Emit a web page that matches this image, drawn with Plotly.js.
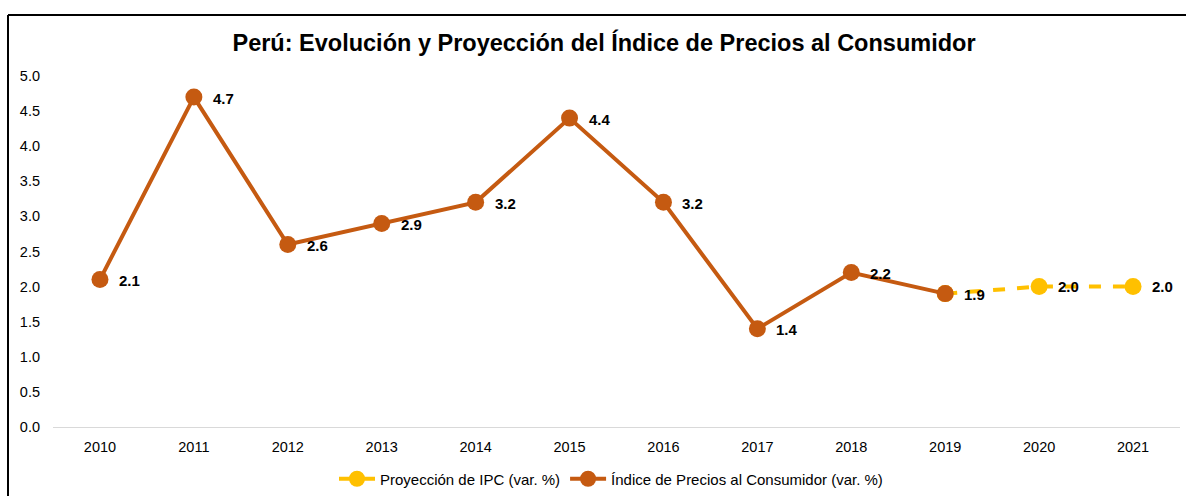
<!DOCTYPE html>
<html><head><meta charset="utf-8">
<script src="https://cdn.plot.ly/plotly-3.0.1.min.js"></script>
<style>html,body{margin:0;padding:0;background:#fff}#chart{width:1186px;height:496px}</style>
</head><body><div id="chart"></div>
<script>
const years = ['2010','2011','2012','2013','2014','2015','2016','2017','2018','2019','2020','2021'];
const ipcYears = ['2010','2011','2012','2013','2014','2015','2016','2017','2018','2019'];
const ipcValues = [2.1, 4.7, 2.6, 2.9, 3.2, 4.4, 3.2, 1.4, 2.2, 1.9];
const projYears = ['2019','2020','2021'];
const projValues = [1.9, 2.0, 2.0];
const projLabelYears = ['2020','2021'];
const projLabelValues = [2.0, 2.0];

const W = 1186, H = 496, ml = 53, mr = 6, mt = 76, mb = 69;
const pw = W - ml - mr, ph = H - mt - mb;
const px = x => (x - ml) / pw;
const py = y => (H - mb - y) / ph;

const orange = '#C55A11', yellow = '#FFC000';
const font = 'Liberation Sans, Arial, sans-serif';

const traces = [
  {x: projYears, y: projValues, type: 'scatter', mode: 'lines+markers', name: 'Proyección de IPC (var. %)',
   line: {color: yellow, width: 4, dash: 'dash'}, marker: {color: yellow, size: 17}},
  {x: ipcYears, y: ipcValues, type: 'scatter', mode: 'lines+markers', name: 'Índice de Precios al Consumidor (var. %)',
   line: {color: orange, width: 4}, marker: {color: orange, size: 17}}
];

const annotations = [];
ipcYears.forEach((yr, i) => annotations.push({xref: 'x', yref: 'y', x: years.indexOf(yr), y: ipcValues[i],
  text: '<b>' + ipcValues[i].toFixed(1) + '</b>',
  showarrow: false, xanchor: 'left', yanchor: 'middle', xshift: 17, yshift: -1, font: {family: font, size: 15, color: '#000'}}));
projLabelYears.forEach((yr, i) => annotations.push({xref: 'x', yref: 'y', x: years.indexOf(yr), y: projLabelValues[i],
  text: '<b>' + projLabelValues[i].toFixed(1) + '</b>',
  showarrow: false, xanchor: 'left', yanchor: 'middle', xshift: 17, yshift: 0, font: {family: font, size: 15, color: '#000'}}));

const layout = {
  width: W, height: H,
  margin: {l: ml, r: mr, t: mt, b: mb, autoexpand: false},
  paper_bgcolor: '#fff', plot_bgcolor: '#fff',
  font: {family: font, size: 14.5, color: '#000'},
  title: {text: '<b>Perú: Evolución y Proyección del Índice de Precios al Consumidor</b>',
    font: {family: font, size: 23.5, color: '#000'}, xref: 'container', x: 604 / W, xanchor: 'center',
    yref: 'container', y: 1 - 43 / H, yanchor: 'middle'},
  xaxis: {type: 'category', categoryorder: 'array', categoryarray: years, range: [-0.5, 11.5],
    showgrid: false, zeroline: false, showline: false, ticks: '', tickfont: {size: 14.5}, ticklabelstandoff: 9, fixedrange: true},
  yaxis: {range: [0, 5.0], dtick: 0.5, tickformat: '.1f', showgrid: false, zeroline: true,
    zerolinecolor: '#d9d9d9', zerolinewidth: 1, showline: false, ticks: '', tickfont: {size: 14.5},
    ticklabelstandoff: 12, fixedrange: true},
  showlegend: true,
  legend: {orientation: 'h', xref: 'container', x: 611 / W, xanchor: 'center', yref: 'container', y: (H - 479) / H, yanchor: 'middle',
    font: {family: font, size: 15, color: '#000'}, traceorder: 'normal', itemwidth: 36},
  annotations: annotations,
  shapes: [
    {type: 'line', xref: 'paper', yref: 'paper', x0: px(8), x1: px(1186), y0: py(15), y1: py(15), line: {color: '#000', width: 2}},
    {type: 'line', xref: 'paper', yref: 'paper', x0: px(8), x1: px(8), y0: py(15), y1: py(496), line: {color: '#000', width: 2}}
  ]
};
Plotly.newPlot('chart', traces, layout, {displayModeBar: false, staticPlot: true});
</script></body></html>
